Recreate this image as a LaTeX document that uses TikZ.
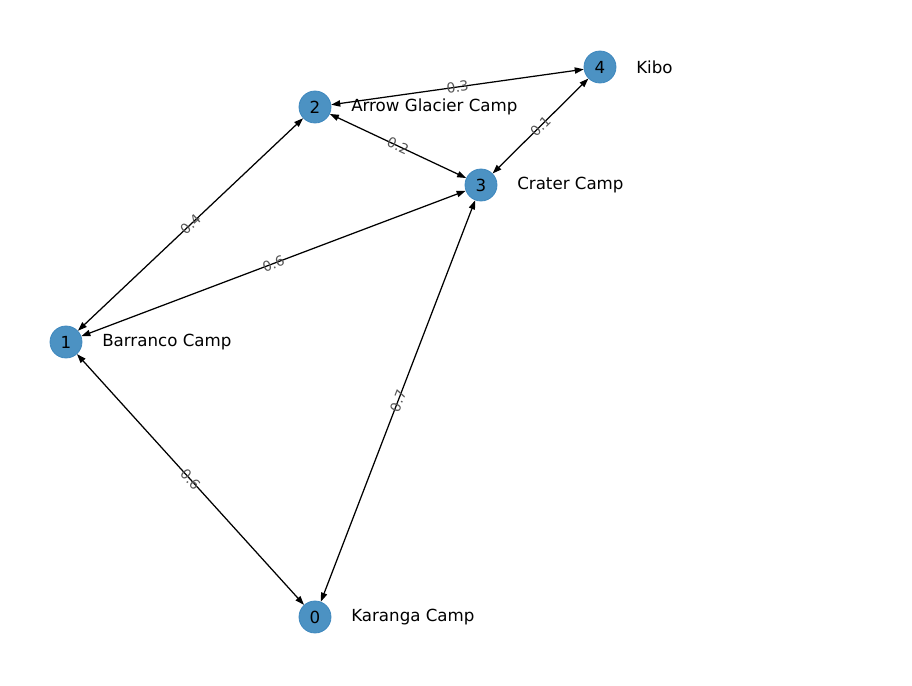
\documentclass[tikz,border=0pt]{standalone}
\usepackage{fontspec}
\setmainfont{DejaVu Sans}
\usetikzlibrary{arrows.meta}
\usepackage{xcolor}
\definecolor{CampBlue}{HTML}{4C92C3}
\definecolor{CampRim}{HTML}{3F88BE}
\definecolor{WeightGray}{HTML}{555555}
\tikzset{
    % Camp styles
    camp/.style={
        circle,
        fill=CampBlue,
        draw=CampRim,
        line width=0.6pt,
        minimum size=23pt,
        inner sep=0pt,
        font=\fontsize{12}{14}\selectfont
    },
    campname/.style={
        anchor=west,
        inner sep=0pt,
        font=\fontsize{12}{14}\selectfont
    },
    % Route styles
    route/.style={
        {Triangle[length=6.5pt,width=4.5pt]}-{Triangle[length=6.5pt,width=4.5pt]},
        line width=0.9pt,
        draw=black
    },
    weight/.style={
        midway,
        sloped,
        inner sep=0pt,
        text=WeightGray,
        font=\fontsize{10}{12}\selectfont
    }
}
\begin{document}
\begin{tikzpicture}[x=0.72pt, y=-0.72pt]
    \useasboundingbox (0,0) rectangle (912,685);

    \node[camp] (c0) at (315,617) {0};
    \node[camp] (c1) at (66,342) {1};
    \node[camp] (c2) at (315,107) {2};
    \node[camp] (c3) at (481,185) {3};
    \node[camp] (c4) at (600,67) {4};

    \node[campname] (l0) at (351,617) {Karanga Camp};
    \node[campname] (l1) at (102,342) {Barranco Camp};
    \node[campname] (l2) at (351,107) {Arrow Glacier Camp};
    \node[campname] (l3) at (517,185) {Crater Camp};
    \node[campname] (l4) at (636,67) {Kibo};

    \draw[route] (c0) -- node[weight] {0.6} (c1);
    \draw[route] (c0) -- node[weight] {0.7} (c3);
    \draw[route] (c1) -- node[weight] {0.4} (c2);
    \draw[route] (c1) -- node[weight] {0.6} (c3);
    \draw[route] (c2) -- node[weight] {0.2} (c3);
    \draw[route] (c2) -- node[weight] {0.3} (c4);
    \draw[route] (c3) -- node[weight] {0.1} (c4);
\end{tikzpicture}
\end{document}
